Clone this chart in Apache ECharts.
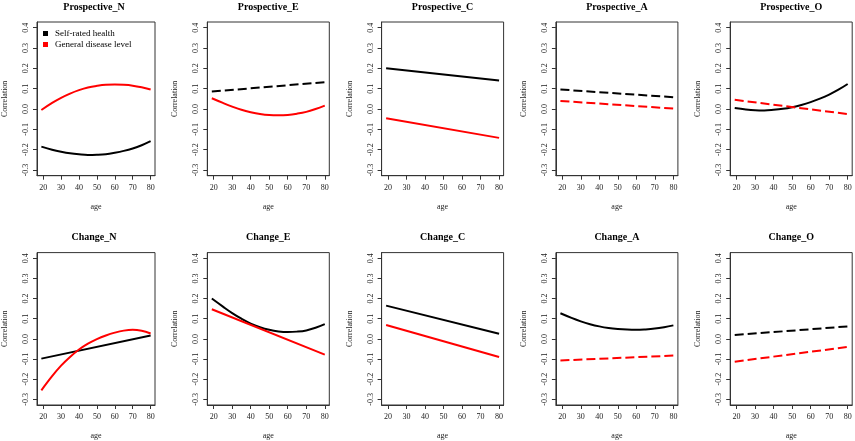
<!DOCTYPE html>
<html>
<head>
<meta charset="utf-8">
<script src="https://cdn.jsdelivr.net/npm/echarts@6/dist/echarts.min.js"></script>
<style>html,body{margin:0;padding:0;background:#fff}#c{width:855px;height:441px}</style>
</head>
<body>
<div id="c"></div>
<script>
// ---- data ----
const curveAges = [19,25,30,35,40,45,50,55,60,65,70,75,80];
const lineAges = [19,80];
const xTicks = [20,30,40,50,60,70,80];
const yTicks = [-0.3,-0.2,-0.1,0.0,0.1,0.2,0.3,0.4];
const seriesNames = ['Self-rated health','General disease level'];
const panelTitles = ['Prospective_N','Prospective_E','Prospective_C','Prospective_A','Prospective_O',
                     'Change_N','Change_E','Change_C','Change_A','Change_O'];

// Prospective_N
const prospN_self = [-0.185,-0.200,-0.210,-0.218,-0.223,-0.226,-0.225,-0.222,-0.215,-0.206,-0.194,-0.178,-0.158];
const prospN_dis  = [-0.005,0.030,0.055,0.076,0.093,0.106,0.114,0.119,0.120,0.119,0.115,0.107,0.096];
// Prospective_E
const prospE_self = [0.086,0.132];
const prospE_dis  = [0.053,0.030,0.012,-0.004,-0.016,-0.025,-0.030,-0.031,-0.029,-0.023,-0.014,0.000,0.017];
// Prospective_C
const prospC_self = [0.200,0.140];
const prospC_dis  = [-0.045,-0.142];
// Prospective_A
const prospA_self = [0.096,0.058];
const prospA_dis  = [0.040,0.002];
// Prospective_O
const prospO_self = [0.005,-0.002,-0.006,-0.007,-0.004,0.001,0.009,0.020,0.034,0.051,0.071,0.095,0.123];
const prospO_dis  = [0.045,-0.025];
// Change_N
const changeN_self = [-0.098,0.017];
const changeN_dis  = [-0.255,-0.185,-0.133,-0.090,-0.053,-0.024,-0.001,0.017,0.031,0.041,0.045,0.040,0.027];
// Change_E
const changeE_self = [0.200,0.160,0.128,0.100,0.076,0.058,0.045,0.037,0.034,0.036,0.042,0.055,0.073];
const changeE_dis  = [0.147,-0.078];
// Change_C
const changeC_self = [0.165,0.025];
const changeC_dis  = [0.069,-0.090];
// Change_A
const changeA_self = [0.127,0.104,0.087,0.073,0.062,0.054,0.049,0.046,0.045,0.047,0.051,0.058,0.067];
const changeA_dis  = [-0.107,-0.083];
// Change_O
const changeO_self = [0.019,0.062];
const changeO_dis  = [-0.113,-0.040];

const panelSelf = [prospN_self,prospE_self,prospC_self,prospA_self,prospO_self,
                   changeN_self,changeE_self,changeC_self,changeA_self,changeO_self];
const panelDis  = [prospN_dis,prospE_dis,prospC_dis,prospA_dis,prospO_dis,
                   changeN_dis,changeE_dis,changeC_dis,changeA_dis,changeO_dis];

// ---- styles (line type per panel: [self, disease]) ----
const dashStyle = [
  [false,false],[true,false],[false,false],[true,true],[false,true],
  [false,false],[false,false],[false,false],[false,true],[true,true]
];
const colors = ['#000000','#ff0000'];

function toPairs(vals){
  const xs = vals.length === 2 ? lineAges : curveAges;
  return vals.map((v,i)=>[xs[i], v]);
}

const FONT = 'Liberation Serif';
const grids=[], xAxes=[], yAxes=[], series=[], titles=[];
for (let p=0;p<10;p++){
  const col=p%5, row=Math.floor(p/5);
  const left = 33 + 174.3*col;
  const top = row===0 ? 22 : 252.6;
  const w = 122, h = 153.7;
  grids.push({left:left, top:top, width:w, height:h, show:true, borderColor:'#333', borderWidth:1, backgroundColor:'transparent'});
  titles.push({text:panelTitles[p], left:left+w/2, top: top-20, textAlign:'center', padding:0,
    textStyle:{fontFamily:FONT, fontWeight:'bold', fontSize:10, color:'#000'}});
  xAxes.push({gridIndex:p, type:'value', min:16.56, max:82.44, position:'bottom',
    name:'age', nameLocation:'middle', nameGap:27,
    nameTextStyle:{fontFamily:FONT, fontSize:8, color:'#222'},
    axisLine:{show:true, onZero:false, lineStyle:{color:'#333', width:1}}, splitLine:{show:false},
    axisTick:{show:true, length:4, customValues:xTicks, lineStyle:{color:'#333'}},
    axisLabel:{customValues:xTicks, margin:8, fontFamily:FONT, fontSize:8, color:'#222'}});
  yAxes.push({gridIndex:p, type:'value', min:-0.328, max:0.428, position:'left',
    name:'Correlation', nameLocation:'middle', nameGap:28, nameRotate:90,
    nameTextStyle:{fontFamily:FONT, fontSize:8, color:'#222'},
    axisLine:{show:true, onZero:false, lineStyle:{color:'#333', width:1}}, splitLine:{show:false},
    axisTick:{show:true, length:4, customValues:yTicks, lineStyle:{color:'#333'}},
    axisLabel:{customValues:yTicks, rotate:90, margin:7, fontFamily:FONT, fontSize:8, color:'#222',
      formatter:(v)=>Number(v).toFixed(1)}});
  const sets=[panelSelf[p], panelDis[p]];
  for (let s=0;s<2;s++){
    series.push({type:'line', name:seriesNames[s], xAxisIndex:p, yAxisIndex:p,
      data:toPairs(sets[s]), smooth: sets[s].length>2 ? 0.4 : false, showSymbol:false, symbol:'none',
      animation:false, silent:true,
      itemStyle:{color:colors[s]},
      lineStyle:{color:colors[s], width:2, type: dashStyle[p][s] ? [9,4] : 'solid'}});
  }
}

const chart = echarts.init(document.getElementById('c'), null, {renderer:'canvas'});
chart.setOption({
  animation:false,
  backgroundColor:'#fff',
  title:titles,
  legend:{data:seriesNames, orient:'vertical', left:38, top:24, icon:'rect',
    itemWidth:5, itemHeight:5, itemGap:2, selectedMode:false,
    textStyle:{fontFamily:FONT, fontSize:9, color:'#000', padding:[0,0,0,2]}},
  grid:grids, xAxis:xAxes, yAxis:yAxes, series:series
});
</script>
</body>
</html>
